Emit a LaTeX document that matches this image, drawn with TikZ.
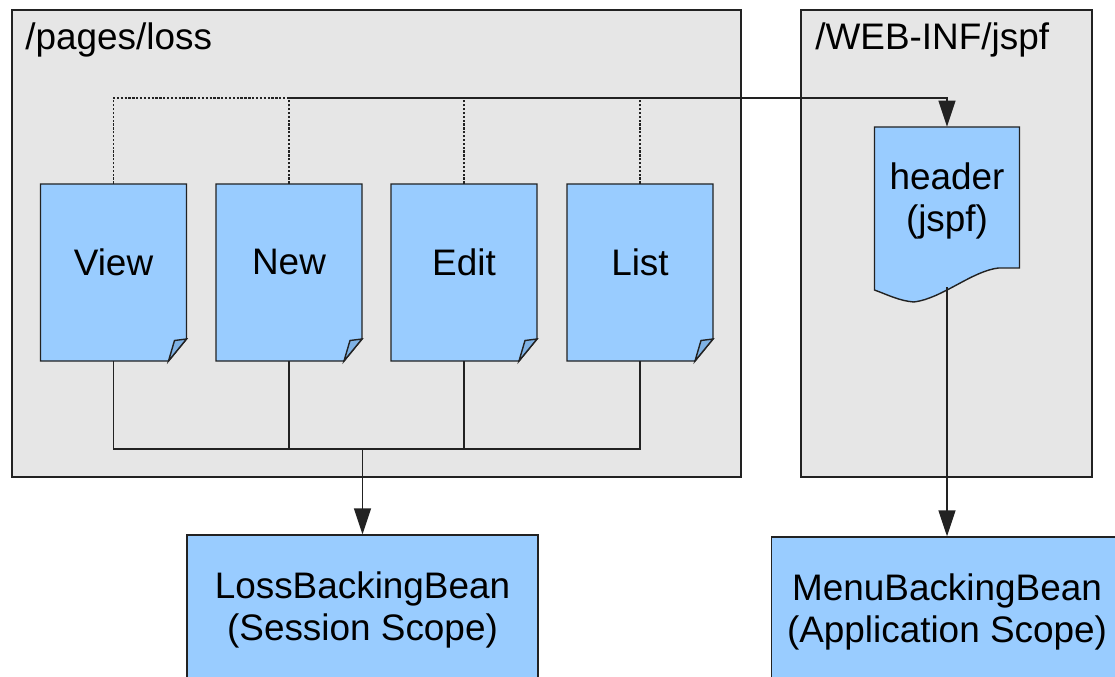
\documentclass[tikz,border=0pt]{standalone}
\usepackage{fontspec}
\setmainfont{Liberation Sans}
\usetikzlibrary{arrows.meta}

\definecolor{pageblue}{HTML}{99CCFF}
\definecolor{foldblue}{HTML}{7FB2E5}
\definecolor{foldergray}{HTML}{E6E6E6}
\definecolor{edgegray}{HTML}{222222}

\tikzset{
	folder/.style={draw=edgegray, fill=foldergray, line width=0.8pt, inner sep=0pt},
	folderlabel/.style={anchor=base west, inner sep=0pt},
	pagebody/.style={fill=pageblue, draw=edgegray, line width=0.8pt},
	pagefold/.style={fill=foldblue, draw=edgegray, line width=0.8pt},
	page/.style={minimum width=2.92cm, minimum height=3.54cm, text depth=12pt, inner sep=0pt},
	bean/.style={draw=edgegray, fill=pageblue, line width=0.8pt, minimum width=7.02cm, minimum height=3cm, align=center},
	link/.style={draw=edgegray, line width=0.8pt},
	usage/.style={link, dash pattern=on 1.3pt off 0.9pt},
	calls/.style={link, -{Triangle[length=0.52cm,width=0.34cm]}},
}

\newcommand{\jsppage}[3]{
	\filldraw[pagebody, shift={(#2)}] (-1.46,1.77) -- (1.46,1.77) -- (1.46,-1.33) -- (1.1,-1.77) -- (-1.46,-1.77) -- cycle;
	\filldraw[pagefold, shift={(#2)}] (1.1,-1.77) -- (1.22,-1.36) -- (1.46,-1.33) -- cycle;
	\node[page] (#1) at (#2) {#3};
}

\begin{document}
\begin{tikzpicture}[font=\fontsize{21}{24}\selectfont]

				\useasboundingbox (0,0) rectangle (22.3,-13.54);
				\clip (0,0) rectangle (22.3,-13.54);

				\node[folder, minimum width=14.58cm, minimum height=9.34cm] (F0) at (7.53,-4.87) {};
				\node[folder, minimum width=5.82cm, minimum height=9.34cm] (F1) at (18.93,-4.87) {};
				\node[folderlabel] (L0) at (0.5,-1.0) {/pages/loss};
				\node[folderlabel] (L1) at (16.3,-1.0) {/WEB-INF/jspf};

				\jsppage{P0}{2.27,-5.45}{View}
				\jsppage{P1}{5.78,-5.45}{New}
				\jsppage{P2}{9.28,-5.45}{Edit}
				\jsppage{P3}{12.8,-5.45}{List}

				\filldraw[pagebody, shift={(18.94,-4.17)}] (-1.45,1.63) -- (1.45,1.63) -- (1.45,-1.19) -- (1.03,-1.19)
					.. controls (0.5,-1.25) and (-0.1,-1.8) .. (-0.66,-1.87)
					.. controls (-0.95,-1.85) and (-1.2,-1.72) .. (-1.45,-1.63) -- cycle;
				\node[page, minimum width=2.9cm, minimum height=3.26cm, text depth=13pt, align=center] (H0) at (18.94,-4.17) {header\\(jspf)};

				\node[bean] (B0) at (7.25,-12.2) {LossBackingBean\\(Session Scope)};
				\node[bean] (B1) at (18.94,-12.24) {MenuBackingBean\\(Application Scope)};

				\coordinate (T0) at (5.78,-1.96);
				\coordinate (T1) at (7.25,-8.98);

				\draw[usage] (P0.north) |- (T0);
				\draw[usage] (P1.north) -- (T0);
				\draw[usage] (P2.north) -- (P2.north |- T0);
				\draw[usage] (P3.north) -- (P3.north |- T0);
				\draw[calls] (T0) -| (H0.north);

				\draw[link] (P0.south) |- (P3.south |- T1) -- (P3.south);
				\draw[link] (P1.south) -- (P1.south |- T1);
				\draw[link] (P2.south) -- (P2.south |- T1);
				\draw[calls] (T1) -- (B0.north);
				\draw[calls] ([yshift=0.06cm]H0.south) -- (B1.north);

\end{tikzpicture}
\end{document}
